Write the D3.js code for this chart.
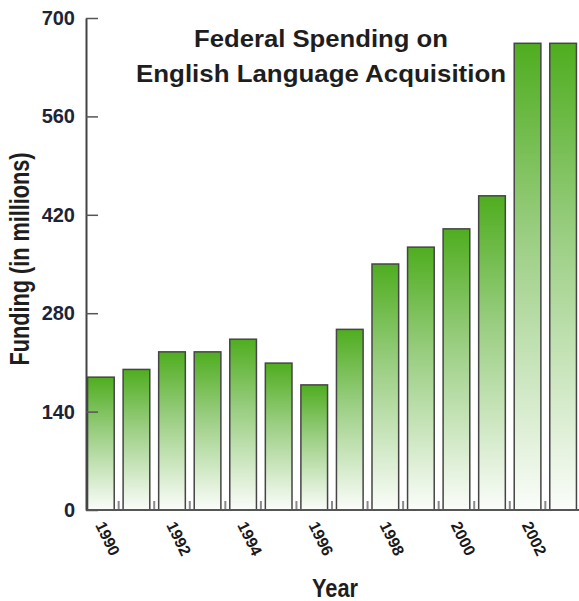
<!DOCTYPE html>
<html>
<head>
<meta charset="utf-8">
<script src="https://cdn.jsdelivr.net/npm/d3@7"></script>
<style>
  html, body { margin: 0; padding: 0; background: #ffffff; }
  svg { display: block; font-family: "Liberation Sans", Arial, Helvetica, sans-serif; }
</style>
</head>
<body>
<svg id="chart" width="579" height="601"></svg>
<script>
// Federal spending on English language acquisition, in millions of dollars
const years = [1990, 1991, 1992, 1993, 1994, 1995, 1996, 1997, 1998, 1999, 2000, 2001, 2002, 2003];
const funding = [189, 200, 225, 225, 243, 209, 178, 257, 350, 374, 400, 447, 664, 664];
const yTicks = [0, 140, 280, 420, 560, 700];
const yearLabels = [1990, 1992, 1994, 1996, 1998, 2000, 2002];
const titleLines = ["Federal Spending on", "English Language Acquisition"];

const svg = d3.select("#chart");
const W = 579;

const x = d3.scaleBand()
  .domain(years)
  .range([84, 580])
  .paddingInner(0.25)
  .paddingOuter(0.1);

const y = d3.scaleLinear()
  .domain([0, 700])
  .range([510, 18]);

// vertical fade used by every bar
const defs = svg.append("defs");
const grad = defs.append("linearGradient")
  .attr("id", "barFade")
  .attr("x1", 0).attr("y1", 0).attr("x2", 0).attr("y2", 1);
grad.append("stop").attr("offset", "0%").attr("stop-color", "#4fad1f");
grad.append("stop").attr("offset", "40%").attr("stop-color", "#98cd7f");
grad.append("stop").attr("offset", "100%").attr("stop-color", "#fbfdfa");

// bars
svg.append("g")
  .selectAll("rect")
  .data(years.map((yr, i) => ({ yr, v: funding[i] })))
  .join("rect")
  .attr("x", d => x(d.yr))
  .attr("y", d => y(d.v))
  .attr("width", x.bandwidth())
  .attr("height", d => y(0) - y(d.v))
  .attr("fill", "url(#barFade)")
  .attr("stroke", "#454545")
  .attr("stroke-width", 1.5);

// small upward ticks in the gaps between bars
const gap = x.step() * x.paddingInner();
svg.append("g")
  .selectAll("line")
  .data(years.slice(1))
  .join("line")
  .attr("x1", d => x(d) - gap / 2)
  .attr("x2", d => x(d) - gap / 2)
  .attr("y1", y(0))
  .attr("y2", y(0) - 9)
  .attr("stroke", "#8a8a8a")
  .attr("stroke-width", 2);

// baseline
svg.append("line")
  .attr("x1", 86).attr("x2", W)
  .attr("y1", y(0)).attr("y2", y(0))
  .attr("stroke", "#555").attr("stroke-width", 2);

// y axis
const yAxis = d3.axisLeft(y)
  .tickValues(yTicks)
  .tickFormat(d3.format("d"))
  .tickSizeInner(-12)
  .tickSizeOuter(0)
  .tickPadding(11);

const gy = svg.append("g")
  .attr("transform", "translate(86,0)")
  .call(yAxis);
gy.select(".domain").attr("stroke", "#444").attr("stroke-width", 2);
gy.selectAll(".tick line").attr("stroke", "#555").attr("stroke-width", 1.5);
gy.selectAll(".tick text")
  .attr("font-size", 20)
  .attr("font-weight", "bold")
  .attr("fill", "#1c2438")
  .attr("font-family", "'Liberation Sans', Arial, sans-serif");

// rotated year labels
svg.append("g")
  .selectAll("text")
  .data(yearLabels)
  .join("text")
  .attr("transform", d => `translate(${x(d) + x.bandwidth() / 2 - 6},525) rotate(64)`)
  .attr("text-anchor", "start")
  .attr("font-size", 16)
  .attr("font-weight", "bold")
  .attr("fill", "#1a1a1a")
  .text(d => d);

// title
svg.append("g")
  .selectAll("text")
  .data(titleLines)
  .join("text")
  .attr("x", 321)
  .attr("y", (d, i) => 47 + i * 35)
  .attr("text-anchor", "middle")
  .attr("font-size", 24)
  .attr("font-weight", "bold")
  .attr("fill", "#1e1e1e")
  .attr("textLength", (d, i) => i === 0 ? 254 : 370)
  .attr("lengthAdjust", "spacingAndGlyphs")
  .text(d => d);

// axis titles
svg.append("text")
  .attr("transform", "translate(29,259) rotate(-90)")
  .attr("text-anchor", "middle")
  .attr("font-size", 27)
  .attr("font-weight", "bold")
  .attr("fill", "#1e1e1e")
  .attr("textLength", 213)
  .attr("lengthAdjust", "spacingAndGlyphs")
  .text("Funding (in millions)");

svg.append("text")
  .attr("x", 335)
  .attr("y", 597)
  .attr("text-anchor", "middle")
  .attr("font-size", 25)
  .attr("font-weight", "bold")
  .attr("fill", "#1e1e1e")
  .attr("textLength", 46)
  .attr("lengthAdjust", "spacingAndGlyphs")
  .text("Year");
</script>
</body>
</html>
